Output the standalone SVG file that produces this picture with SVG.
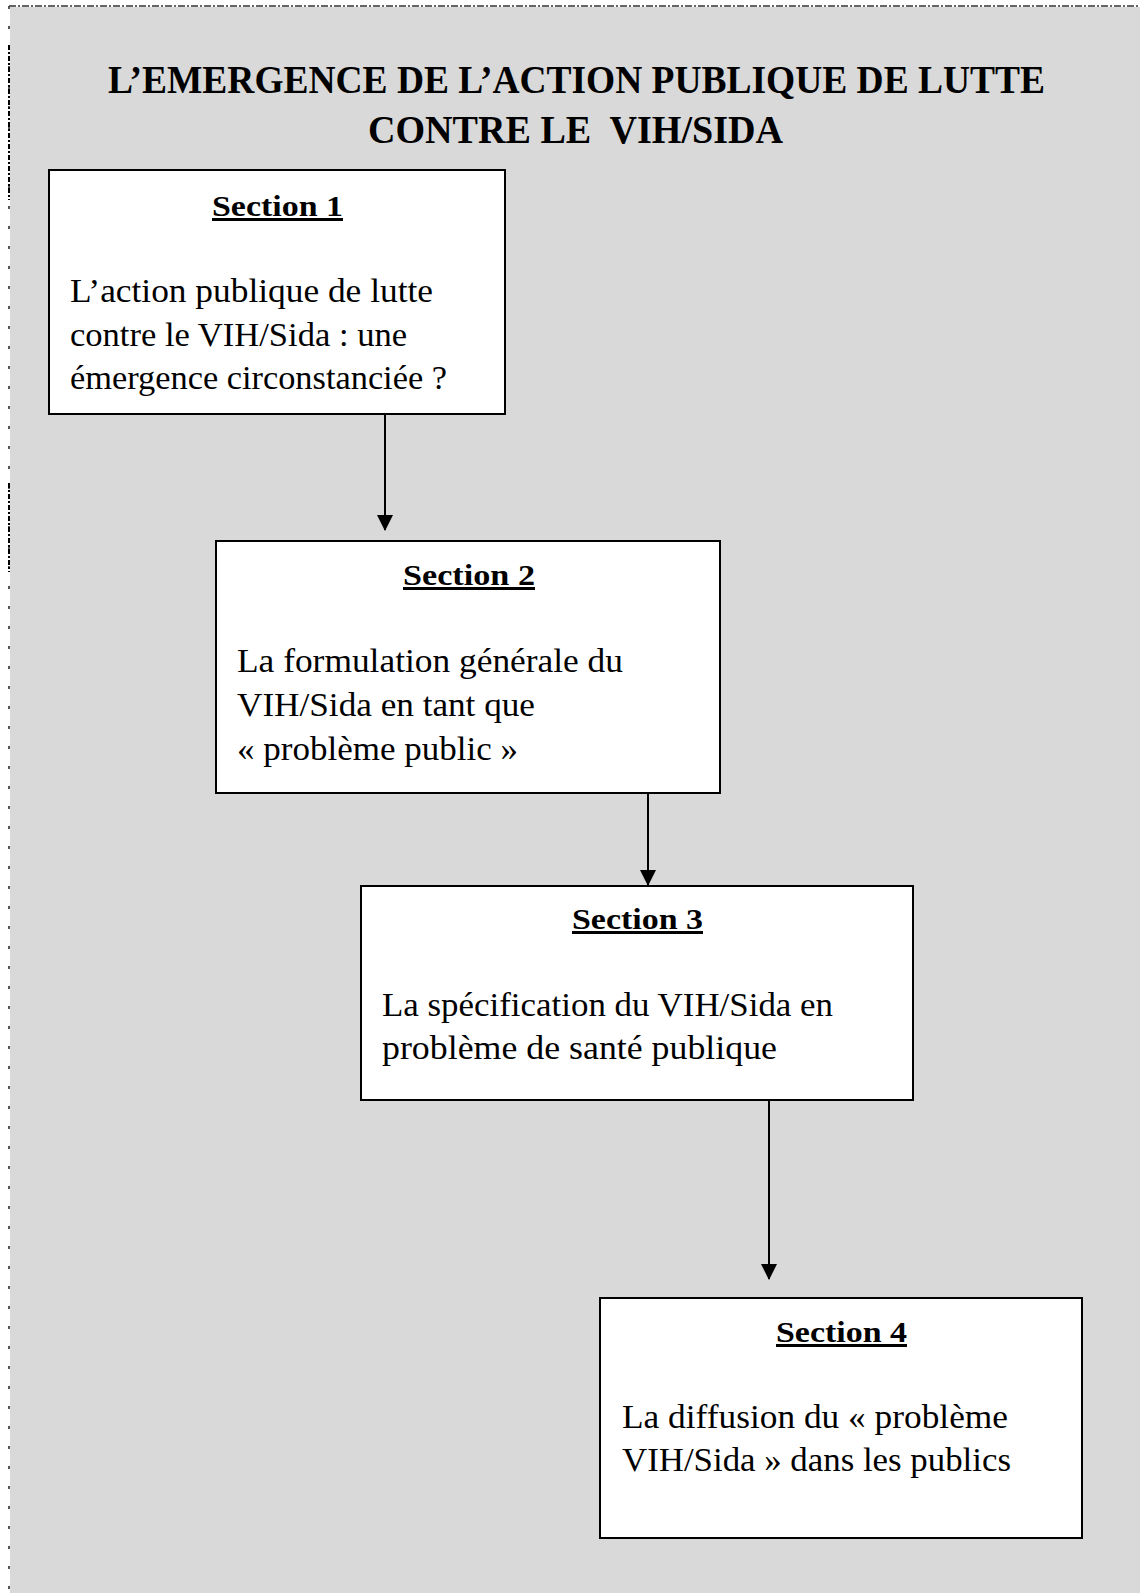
<svg xmlns="http://www.w3.org/2000/svg" width="1140" height="1593" viewBox="0 0 1140 1593">
  <style>
    .bg { fill: #d9d9d9; }
    .box { fill: #ffffff; stroke: #000000; stroke-width: 2; }
    .title { font-family: "Liberation Serif", "Times New Roman", serif; font-weight: bold; font-size: 39px; fill: #000; }
    .head { font-family: "Liberation Serif", "Times New Roman", serif; font-weight: bold; font-size: 30px; fill: #000; text-decoration: underline; }
    .body { font-family: "Liberation Serif", "Times New Roman", serif; font-size: 34px; fill: #000; }
    .conn { stroke: #000; stroke-width: 2; fill: none; }
  </style>
  <defs>
    <marker id="arrow" viewBox="0 0 16 16" refX="15" refY="8" markerWidth="16" markerHeight="16" markerUnits="userSpaceOnUse" orient="auto">
      <path d="M0,0 L16,8 L0,16 Z" fill="#000"/>
    </marker>
  </defs>

  <g id="page">
    <rect class="bg" x="10" y="7" width="1130" height="1586"/>
    <line x1="9" y1="6" x2="1140" y2="6" stroke="#333" stroke-width="1.5" stroke-dasharray="7,2,2,2"/>
    <line x1="9" y1="6" x2="9" y2="1593" stroke="#555" stroke-width="2" stroke-dasharray="3,17"/>
    <line x1="9" y1="45" x2="9" y2="200" stroke="#000" stroke-width="2" stroke-dasharray="5,2,2,2"/>
    <line x1="9" y1="483" x2="9" y2="572" stroke="#000" stroke-width="2" stroke-dasharray="5,2,2,2"/>
  </g>

  <g id="title">
    <text class="title" x="108" y="93" textLength="937" lengthAdjust="spacingAndGlyphs">L’EMERGENCE DE L’ACTION PUBLIQUE DE LUTTE</text>
    <text class="title" x="368" y="143" textLength="415" lengthAdjust="spacingAndGlyphs" xml:space="preserve">CONTRE LE  VIH/SIDA</text>
  </g>

  <g id="connectors">
    <line class="conn" x1="385" y1="411" x2="385" y2="530" marker-end="url(#arrow)"/>
    <line class="conn" x1="648" y1="793" x2="648" y2="885" marker-end="url(#arrow)"/>
    <line class="conn" x1="769" y1="1100" x2="769" y2="1279" marker-end="url(#arrow)"/>
  </g>

  <g id="section1">
    <rect class="box" x="49" y="170" width="456" height="244"/>
    <text class="head" x="212" y="216" textLength="131" lengthAdjust="spacingAndGlyphs">Section 1</text>
    <text class="body" x="70" y="302" textLength="363" lengthAdjust="spacingAndGlyphs">L’action publique de lutte</text>
    <text class="body" x="70" y="346" textLength="337" lengthAdjust="spacingAndGlyphs">contre le VIH/Sida : une</text>
    <text class="body" x="70" y="389" textLength="377" lengthAdjust="spacingAndGlyphs">émergence circonstanciée ?</text>
  </g>

  <g id="section2">
    <rect class="box" x="216" y="541" width="504" height="252"/>
    <text class="head" x="403" y="585" textLength="132" lengthAdjust="spacingAndGlyphs">Section 2</text>
    <text class="body" x="237" y="672" textLength="386" lengthAdjust="spacingAndGlyphs">La formulation générale du</text>
    <text class="body" x="237" y="716" textLength="298" lengthAdjust="spacingAndGlyphs">VIH/Sida en tant que</text>
    <text class="body" x="237" y="760" textLength="281" lengthAdjust="spacingAndGlyphs">« problème public »</text>
  </g>

  <g id="section3">
    <rect class="box" x="361" y="886" width="552" height="214"/>
    <text class="head" x="572" y="929" textLength="131" lengthAdjust="spacingAndGlyphs">Section 3</text>
    <text class="body" x="382" y="1016" textLength="451" lengthAdjust="spacingAndGlyphs">La spécification du VIH/Sida en</text>
    <text class="body" x="382" y="1059" textLength="395" lengthAdjust="spacingAndGlyphs">problème de santé publique</text>
  </g>

  <g id="section4">
    <rect class="box" x="600" y="1298" width="482" height="240"/>
    <text class="head" x="776" y="1342" textLength="131" lengthAdjust="spacingAndGlyphs">Section 4</text>
    <text class="body" x="622" y="1428" textLength="386" lengthAdjust="spacingAndGlyphs">La diffusion du « problème</text>
    <text class="body" x="622" y="1471" textLength="389" lengthAdjust="spacingAndGlyphs">VIH/Sida » dans les publics</text>
  </g>
</svg>
